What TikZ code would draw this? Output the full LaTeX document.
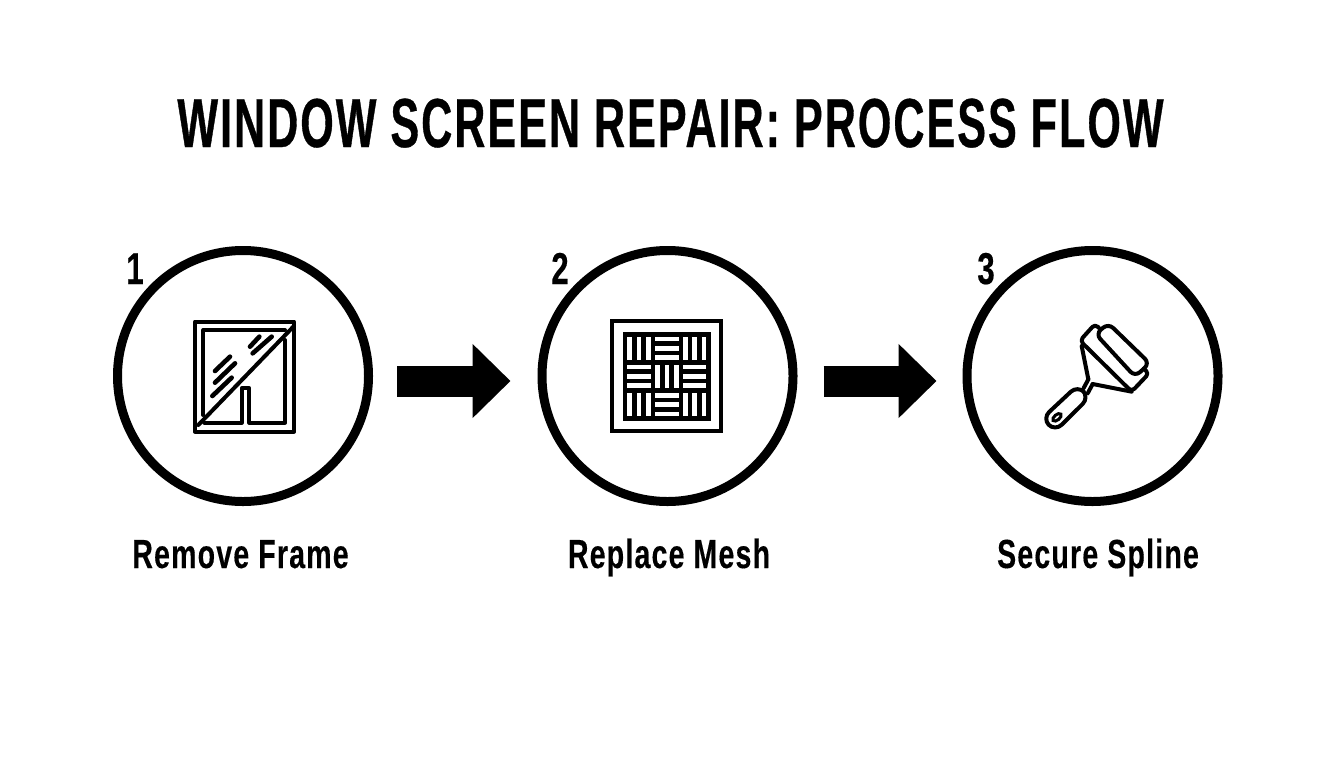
\documentclass[tikz,border=0pt]{standalone}
\usepackage{fontspec}
\setmainfont{Liberation Sans}
\newfontfamily\titlefont[UprightFont=* Bold,FakeStretch=0.62,LetterSpace=3,FakeBold=0.5]{Liberation Sans}
\newfontfamily\labelfont[UprightFont=* Bold,FakeStretch=0.70,LetterSpace=3,FakeBold=0.3]{Liberation Sans}
\usetikzlibrary{arrows.meta}
\def\px{0.75pt}
\tikzset{
  x=0.75pt,y=-0.75pt,
  stepcircle/.style={circle,draw=black,line width=9*\px,minimum size=251*\px,inner sep=0pt,outer sep=4.5*\px},
  flowarrow/.style={line width=31*\px,-{Triangle[length=38*\px,width=72*\px]},black},
  titletext/.style={font=\titlefont\fontsize{52}{56}\selectfont,inner sep=0pt,anchor=base},
  numtext/.style={font=\labelfont\fontsize{33.5}{36}\selectfont,inner sep=0pt,anchor=base},
  labeltext/.style={font=\labelfont\fontsize{30.5}{34}\selectfont,inner sep=0pt,anchor=base},
  iconline/.style={draw=black,line width=4*\px,line cap=round,line join=round},
  glassline/.style={draw=black,line width=4.6*\px,line cap=round},
  thinline/.style={draw=black,line width=4*\px,line cap=round,line join=round},
}
\begin{document}
\begin{tikzpicture}
\useasboundingbox (0,0) rectangle (1344,768);
\fill[white] (0,0) rectangle (1344,768);
\node[titletext] (title) at (670.5,147) {WINDOW SCREEN REPAIR: PROCESS FLOW};

\node[stepcircle] (c1) at (243,376) {};
\node[stepcircle] (c2) at (667.5,376) {};
\node[stepcircle] (c3) at (1092.5,376) {};

\node[numtext] (n1) at (135,284) {1};
\node[numtext] (n2) at (560,284) {2};
\node[numtext] (n3) at (986,284) {3};

\node[labeltext] (l1) at (240.5,568) {Remove Frame};
\node[labeltext] (l2) at (669,568) {Replace Mesh};
\node[labeltext] (l3) at (1098,568) {Secure Spline};

\draw[flowarrow,shorten <=24*\px,shorten >=27*\px] ([yshift=-5*\px]c1.east) -- ([yshift=-5*\px]c2.west);
\draw[flowarrow,shorten <=26*\px,shorten >=26*\px] ([yshift=-5*\px]c2.east) -- ([yshift=-5*\px]c3.west);

% icon 1: window
\begin{scope}[shift={(170,300)},x=0.25pt,y=-0.25pt]
\draw[iconline] (75,65) rectangle (372,395);
\draw[iconline] (100,345) -- (100,90) -- (345,90);
\draw[iconline] (345,120) -- (345,368) -- (238,368) -- (238,265) -- (215,265) -- (215,368) -- (103,368);
\draw[iconline] (85,375) -- (370,80);
\draw[glassline] (135,213) -- (180,170);
\draw[glassline] (135,248) -- (195,190);
\draw[glassline] (127,288) -- (185,233);
\draw[glassline] (240,140) -- (268,110);
\draw[glassline] (248,160) -- (305,110);
\end{scope}

% icon 2: mesh
\begin{scope}[shift={(595,305)},x=0.25pt,y=-0.25pt]
\draw[draw=black,line width=4*\px] (52,48) rectangle (379,379);
\fill[black] (85,82) rectangle (347,347);
\foreach \xa/\xb in {97/111,125/139,153/167,264/278,292/306,320/334}{
  \fill[white] (\xa,95) rectangle (\xb,165);
  \fill[white] (\xa,264) rectangle (\xb,334);
}
\foreach \xa/\xb in {181/195,209/223,237/251}{
  \fill[white] (\xa,179) rectangle (\xb,250);
}
\foreach \ya/\yb in {95/108,123/137,151/165,264/278,292/306,320/334}{
  \fill[white] (181,\ya) rectangle (251,\yb);
}
\foreach \ya/\yb in {179/193,207/221,235/250}{
  \fill[white] (97,\ya) rectangle (167,\yb);
  \fill[white] (264,\ya) rectangle (334,\yb);
}
\end{scope}

% icon 3: roller
\begin{scope}[shift={(1025,310)},x=0.25pt,y=-0.25pt]
\draw[thinline,rounded corners=5pt] (250,40) -- (374,160) -- (330,200) -- (212,72) -- cycle;
\draw[thinline,rounded corners=3pt] (222,54) -- (210,42) -- (165,92) -- (320,245) -- (372,190) -- (356,176);
\draw[thinline] (170,108) -- (190,208);
\draw[thinline] (320,245) -- (203,222);
\draw[thinline] (190,208) -- (176,234);
\draw[thinline] (203,222) -- (188,250);
\draw[thinline,rounded corners=7pt] (158,226) -- (193,262) -- (90,364) -- (52,325) -- cycle;
\draw[draw=black,line width=3*\px,rotate around={40:(96,322)}] (96,322) ellipse (15 and 8);
\end{scope}
\end{tikzpicture}
\end{document}
